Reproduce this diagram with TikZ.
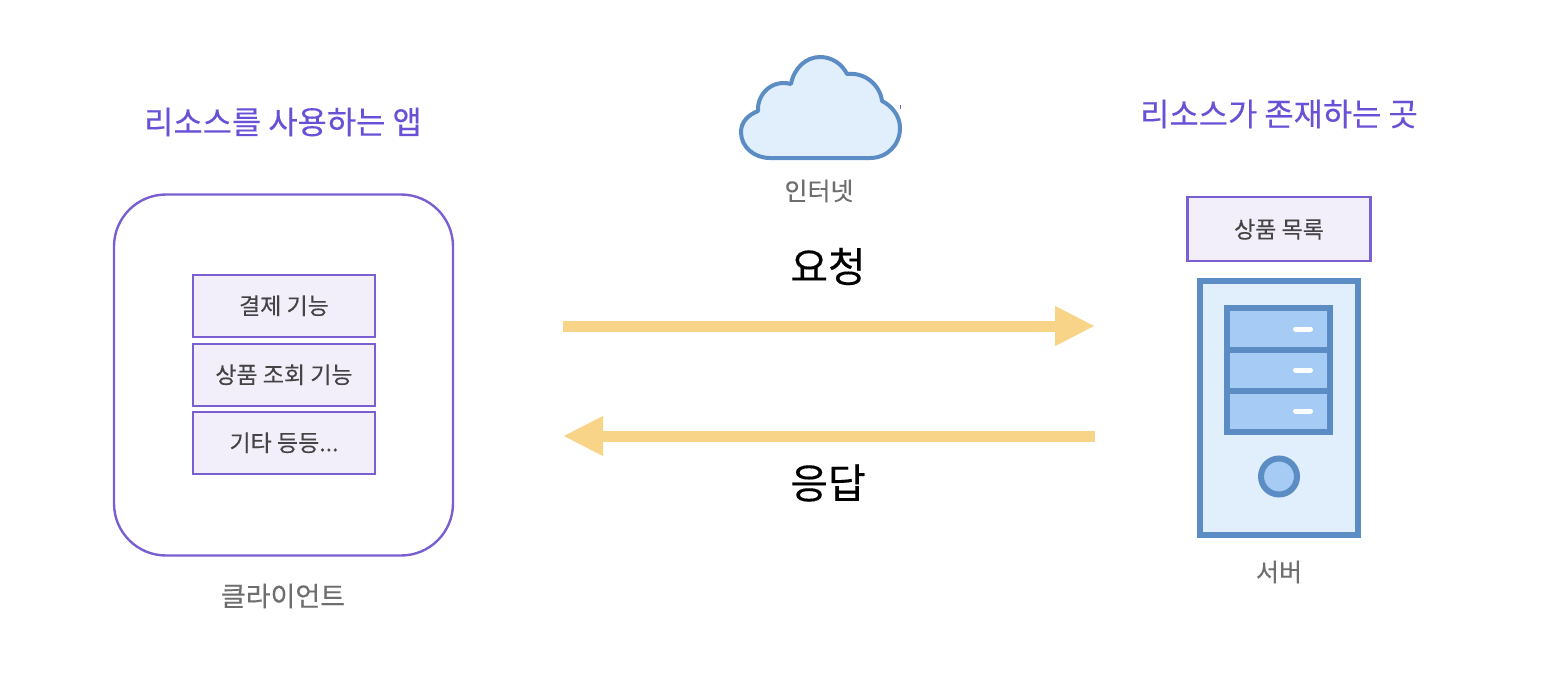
\documentclass[tikz,border=0pt]{standalone}
\usepackage{fontspec}
\setmainfont[FakeBold=0.25]{Noto Sans CJK KR}
\usetikzlibrary{arrows.meta}
\definecolor{violet1}{HTML}{7A5FD3}
\definecolor{headc}{HTML}{6A50D6}
\definecolor{boxfill}{HTML}{F2EFFB}
\definecolor{blue1}{HTML}{5B8CC3}
\definecolor{blue2}{HTML}{E1EFFD}
\definecolor{blue3}{HTML}{A6CBF5}
\definecolor{arrowc}{HTML}{F7D487}
\definecolor{graytext}{HTML}{6E6E6E}
\definecolor{darktext}{HTML}{444444}
\tikzset{
  x=1pt,y=-1pt,
  heading/.style={text=headc,font=\fontsize{31.8}{34}\selectfont,inner sep=0pt},
  caption/.style={text=graytext,font=\fontsize{27}{30}\selectfont,inner sep=0pt},
  biglabel/.style={text=black,font=\fontsize{41}{46}\selectfont,inner sep=0pt},
  featurebox/.style={draw=violet1,fill=boxfill,line width=2.1pt,minimum width=182pt,minimum height=62pt,inner sep=0pt,text=darktext,font=\fontsize{23}{26}\selectfont},
  flow/.style={draw=arrowc,line width=11pt,-{Triangle[length=40pt,width=37pt,color=arrowc]}},
  srv/.style={draw=blue1,line width=6pt},
}
\begin{document}
\begin{tikzpicture}
\useasboundingbox (0,0) rectangle (1562,698);
\fill[white] (0,0) rectangle (1562,698);
% client
\draw[violet1,line width=2.4pt,rounded corners=52pt] (114,194.5) rectangle (453,555.5);
\node[featurebox] (pay) at (284,305.7) {결제 기능};
\node[featurebox] (view) at (284,374.7) {상품 조회 기능};
\node[featurebox] (etc) at (284,442.7) {기타 등등...};
\node[heading] (h1) at (283,122) {리소스를 사용하는 앱};
\node[caption] (c1) at (283,596) {클라이언트};
% cloud
\draw[blue1,fill=blue2,line width=4pt,line join=round]
 (770,158) -- (870,158)
 .. controls (887,158) and (900,145) .. (900,128)
 .. controls (900,116) and (892,106) .. (882,101)
 .. controls (880,85) and (865,72) .. (847,74)
 .. controls (842,64) and (832,57) .. (820,57)
 .. controls (806,57) and (794,68) .. (791,84)
 .. controls (772,79) and (757,94) .. (758,111)
 .. controls (748,115) and (741,122) .. (741,132)
 .. controls (741,147) and (754,158) .. (770,158) -- cycle;
\fill[violet1] (899.6,105.5) rectangle (901,109.5);
\node[caption,font=\fontsize{25}{28}\selectfont] (c2) at (819,191) {인터넷};
% labels and arrows
\node[biglabel] (req) at (828,266.5) {요청};
\node[biglabel] (res) at (828,483) {응답};
\coordinate (a1) at (563,326);
\coordinate (a2) at (1095,326);
\coordinate (b1) at (1095,436);
\coordinate (b2) at (563,436);
\draw[flow] (a1) -- (a2);
\draw[flow] (b1) -- (b2);
% server
\node[heading] (h2) at (1279,114) {리소스가 존재하는 곳};
\node[featurebox,minimum width=183pt,minimum height=64pt] (list) at (1279,229.3) {상품 목록};
\draw[srv,fill=blue2] (1200,281) rectangle (1358,535);
\draw[srv,fill=blue3] (1227,308) rectangle (1330,432);
\draw[srv] (1227,349.5) -- (1330,349.5);
\draw[srv] (1227,390.5) -- (1330,390.5);
\foreach \yy in {329,370,411}
  \draw[white,line width=5pt,line cap=round] (1295.5,\yy) -- (1310.5,\yy);
\draw[srv,fill=blue3] (1279,476.5) circle (18);
\node[caption,font=\fontsize{25}{28}\selectfont] (c3) at (1279,572) {서버};
\end{tikzpicture}
\end{document}
